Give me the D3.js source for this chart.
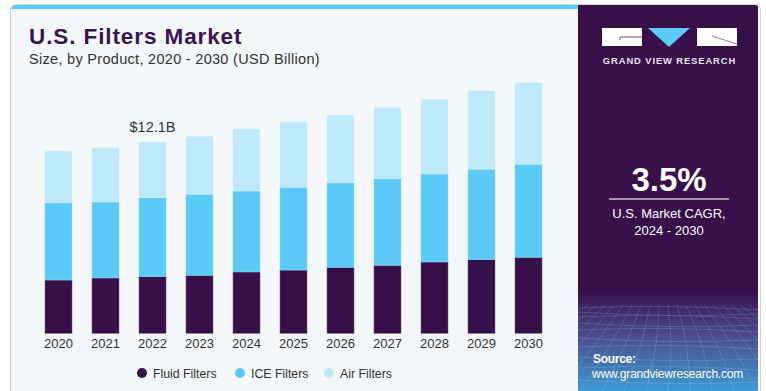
<!DOCTYPE html>
<html><head><meta charset="utf-8">
<script src="https://cdn.jsdelivr.net/npm/d3@7"></script>
<style>html,body{margin:0;padding:0;background:#fff;}svg{display:block;font-family:"Liberation Sans",Arial,sans-serif;}</style>
</head><body>
<svg id="c" width="766" height="391"></svg>
<script>
const years = ["2020","2021","2022","2023","2024","2025","2026","2027","2028","2029","2030"];
const fluid = [3.37,3.50,3.58,3.67,3.88,4.00,4.17,4.30,4.51,4.66,4.81];
const ice   = [4.89,4.81,5.00,5.12,5.12,5.23,5.35,5.48,5.57,5.72,5.88];
const air   = [3.27,3.42,3.52,3.67,3.92,4.15,4.28,4.49,4.72,4.95,5.16];
const seriesNames = ["Fluid Filters","ICE Filters","Air Filters"];
const colors = ["#37104a","#5ccaf6","#bde9f9"];
const annotation = {year:"2022", text:"$12.1B"};

const svg = d3.select("#c");
const defs = svg.append("defs");

// card
svg.append("rect").attr("x",10.5).attr("y",4.5).attr("width",750).attr("height",400).attr("rx",5)
  .attr("fill","#f4f8fb").attr("stroke","#cfd3d8");
const clip = defs.append("clipPath").attr("id","cardclip");
clip.append("rect").attr("x",11).attr("y",5).attr("width",749).attr("height",400).attr("rx",5);
svg.append("rect").attr("x",11).attr("y",4).attr("width",568).attr("height",5).attr("fill","#5ccaf6").attr("clip-path","url(#cardclip)");

// right panel
const grad = defs.append("linearGradient").attr("id","pg").attr("x1",0).attr("y1",0).attr("x2",0).attr("y2",1);
grad.append("stop").attr("offset","0").attr("stop-color","#37104a");
grad.append("stop").attr("offset","0.74").attr("stop-color","#37104a");
grad.append("stop").attr("offset","0.86").attr("stop-color","#4a4d8e");
grad.append("stop").attr("offset","1").attr("stop-color","#3c9ad3");
svg.append("rect").attr("x",578).attr("y",4).attr("width",180).attr("height",387).attr("fill","url(#pg)").attr("clip-path","url(#cardclip)");

// grid pattern in lower panel
const gridG = svg.append("g").attr("opacity",0.25).attr("stroke","#c9e6ff").attr("stroke-width",0.7).attr("fill","none");
const gclip = defs.append("clipPath").attr("id","gclip");
gclip.append("rect").attr("x",578).attr("y",305).attr("width",180).attr("height",86);
gridG.attr("clip-path","url(#gclip)");
for(let i=0;i<14;i++){
  const yy = 308 + i*i*0.5 + i*3.5;
  gridG.append("path").attr("d",`M578,${yy} Q668,${yy+ (i%2?6:-4)} 758,${yy+2}`);
}
for(let i=-12;i<=12;i++){
  const xt = 668 + i*9, xb = 668 + i*22;
  gridG.append("path").attr("d",`M${xt},305 Q${(xt+xb)/2+6},345 ${xb},391`);
}

// logo
const lg = svg.append("g");
lg.append("rect").attr("x",602).attr("y",28).attr("width",40).attr("height",18).attr("fill","#fff");
lg.append("path").attr("d","M620,37 H642 M620,37 V40").attr("stroke","#9a8aa6").attr("stroke-width",1.3).attr("fill","none");
lg.append("path").attr("d","M648,28 H690 L669,47 Z").attr("fill","#5ccaf6");
lg.append("rect").attr("x",697).attr("y",28).attr("width",40).attr("height",18).attr("fill","#fff");
lg.append("path").attr("d","M712,36 L737,44").attr("stroke","#9a8aa6").attr("stroke-width",1.3);
lg.append("text").attr("x",669.5).attr("y",64).attr("text-anchor","middle").attr("fill","#e8e4ee")
  .attr("font-size",9.4).attr("font-weight","bold").attr("letter-spacing",0.9).text("GRAND VIEW RESEARCH");

// CAGR
svg.append("text").attr("x",669).attr("y",191).attr("text-anchor","middle").attr("fill","#fff")
  .attr("font-size",33).attr("font-weight","bold").text("3.5%");
svg.append("line").attr("x1",609).attr("x2",729).attr("y1",199).attr("y2",199).attr("stroke","#c8c0d0").attr("stroke-width",1.5);
svg.append("text").attr("x",669).attr("y",218).attr("text-anchor","middle").attr("fill","#fff").attr("font-size",13).text("U.S. Market CAGR,");
svg.append("text").attr("x",669).attr("y",235).attr("text-anchor","middle").attr("fill","#fff").attr("font-size",13).text("2024 - 2030");
svg.append("text").attr("x",593).attr("y",363).attr("fill","#fff").attr("font-size",12).attr("font-weight","bold").attr("letter-spacing",-0.3).text("Source:");
svg.append("text").attr("x",592).attr("y",378).attr("fill","#fff").attr("font-size",12).attr("letter-spacing",-0.2).text("www.grandviewresearch.com");

// title
svg.append("text").attr("x",29).attr("y",44).attr("fill","#3b1350").attr("font-size",22.5).attr("font-weight","bold").attr("letter-spacing",0.9).text("U.S. Filters Market");
svg.append("text").attr("x",29).attr("y",64).attr("fill","#333").attr("font-size",14.5).attr("letter-spacing",0.3).text("Size, by Product, 2020 - 2030 (USD Billion)");

// chart
const x = d3.scaleBand().domain(years).range([35, 35+11*47]).paddingInner(20/47).paddingOuter(10/47);
const y = d3.scaleLinear().domain([0,16]).range([333.3, 333.3-15.81*16]);

const data = years.map((yr,i)=>({year:yr, "Fluid Filters":fluid[i], "ICE Filters":ice[i], "Air Filters":air[i]}));
const stack = d3.stack().keys(seriesNames)(data);

const gBars = svg.append("g");
stack.forEach((layer,li)=>{
  gBars.append("g").selectAll("rect").data(layer).join("rect")
    .attr("x",d=>x(d.data.year)).attr("width",x.bandwidth())
    .attr("y",d=>y(d[1])).attr("height",d=>y(d[0])-y(d[1]))
    .attr("fill",colors[li])
    .attr("rx", li===2 ? 1.5 : 0)
    .attr("stroke", li===0 ? "#6a4f7a" : (li===1 ? "#8fd9f8" : "#d3f0fb")).attr("stroke-width",0.5);
});

// annotation
const ai = years.indexOf(annotation.year);
svg.append("text").attr("x",x(annotation.year)+x.bandwidth()/2).attr("y",y(fluid[ai]+ice[ai]+air[ai])-10)
  .attr("text-anchor","middle").attr("fill","#333").attr("font-size",14.5).text(annotation.text);

// x axis
const xAxis = svg.append("g").attr("transform","translate(0,333)").call(d3.axisBottom(x).tickSize(0).tickPadding(6));
xAxis.select(".domain").remove();
xAxis.selectAll("text").attr("font-size",13).attr("fill","#333").attr("font-family","'Liberation Sans',Arial,sans-serif");

// legend
const legX = [142,240,329];
seriesNames.forEach((n,i)=>{
  svg.append("circle").attr("cx",legX[i]).attr("cy",373).attr("r",5).attr("fill",colors[i]);
  svg.append("text").attr("x",legX[i]+11).attr("y",377.5).attr("fill","#333").attr("font-size",12.3).text(n);
});
</script>
</body></html>
